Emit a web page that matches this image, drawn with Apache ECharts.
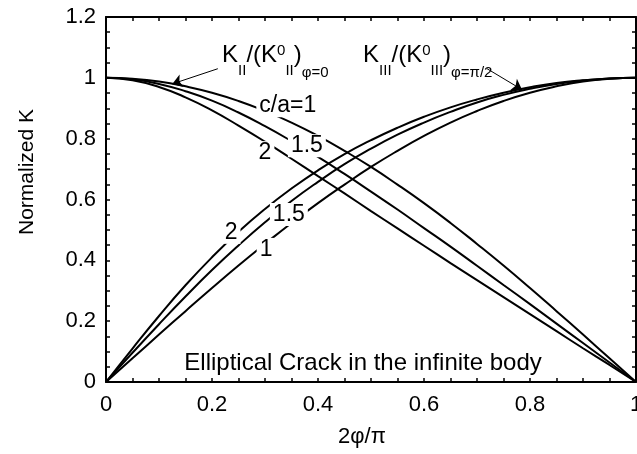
<!DOCTYPE html>
<html>
<head>
<meta charset="utf-8">
<script src="https://cdn.jsdelivr.net/npm/echarts@6/dist/echarts.min.js"></script>
<style>
  html, body { margin: 0; padding: 0; background: #fff; }
  #chart { width: 637px; height: 454px; }
</style>
</head>
<body>
<div id="chart"></div>
<script>
// Normalized angle along the crack front, 2φ/π
const phiRatio = [0, 0.05, 0.1, 0.15, 0.2, 0.25, 0.3, 0.35, 0.4, 0.45, 0.5,
                  0.55, 0.6, 0.65, 0.7, 0.75, 0.8, 0.85, 0.9, 0.95, 1];

// Mode II, K_II / (K0_II) at φ = 0
const kII_ca1  = [1, 0.997, 0.988, 0.972, 0.951, 0.924, 0.891, 0.853, 0.809, 0.760, 0.707,
                  0.649, 0.588, 0.523, 0.454, 0.383, 0.309, 0.233, 0.156, 0.078, 0];
const kII_ca15 = [1, 0.995, 0.980, 0.956, 0.925, 0.886, 0.841, 0.792, 0.740, 0.684, 0.626,
                  0.567, 0.506, 0.445, 0.382, 0.319, 0.256, 0.192, 0.128, 0.064, 0];
const kII_ca2  = [1, 0.992, 0.970, 0.936, 0.893, 0.843, 0.790, 0.734, 0.677, 0.620, 0.562,
                  0.505, 0.448, 0.391, 0.335, 0.279, 0.223, 0.167, 0.111, 0.056, 0];

// Mode III, K_III / (K0_III) at φ = π/2
const kIII_ca1  = [0, 0.078, 0.156, 0.233, 0.309, 0.383, 0.454, 0.523, 0.588, 0.649, 0.707,
                   0.760, 0.809, 0.853, 0.891, 0.924, 0.951, 0.972, 0.988, 0.997, 1];
const kIII_ca15 = [0, 0.096, 0.190, 0.281, 0.368, 0.449, 0.525, 0.595, 0.658, 0.716, 0.767,
                   0.813, 0.853, 0.888, 0.919, 0.944, 0.964, 0.980, 0.991, 0.998, 1];
const kIII_ca2  = [0, 0.110, 0.217, 0.318, 0.410, 0.494, 0.569, 0.636, 0.696, 0.749, 0.795,
                   0.836, 0.872, 0.903, 0.929, 0.951, 0.969, 0.983, 0.992, 0.998, 1];

const xTicks = { min: 0, max: 1, step: 0.2 };
const yTicks = { min: 0, max: 1.2, step: 0.2 };

// Annotations (data coordinates)
const curveLabels = [
  { text: 'c/a=1', at: [0.343, 0.908] },
  { text: '1.5',   at: [0.379, 0.777] },
  { text: '2',     at: [0.300, 0.754] },
  { text: '2',     at: [0.236, 0.492] },
  { text: '1.5',   at: [0.345, 0.551] },
  { text: '1',     at: [0.302, 0.436] }
];
const arrows = [
  { from: [0.211, 1.030], to: [0.125, 0.980] },
  { from: [0.719, 1.030], to: [0.785, 0.961] }
];
const noteText = 'Elliptical Crack in the infinite body';
const noteAt = [0.485, 0.062];

const FONT = "'Liberation Sans', Arial, Helvetica, sans-serif";

const pairs = arr => phiRatio.map((x, i) => [x, arr[i]]);

const curve = (name, arr) => ({
  name, type: 'line', data: pairs(arr), smooth: true, showSymbol: false,
  silent: true, animation: false, z: 2,
  lineStyle: { color: '#000', width: 2 }
});

const tickStyle = { color: '#000', width: 1.5 };
const axisBase = (extra) => Object.assign({
  type: 'value',
  axisLine: { show: true, onZero: false, lineStyle: { color: '#000', width: 2 } },
  axisTick: { show: true, inside: true, length: 4, lineStyle: tickStyle },
  minorTick: { show: true, splitNumber: 4, length: 4, lineStyle: tickStyle },
  splitLine: { show: false },
  minorSplitLine: { show: false }
}, extra);

const chart = echarts.init(document.getElementById('chart'), null, { renderer: 'canvas' });

chart.setOption({
  animation: false,
  backgroundColor: '#fff',
  grid: { left: 106, right: 1, top: 17, bottom: 72, containLabel: false, outerBoundsMode: 'none' },
  xAxis: [
    axisBase({ position: 'bottom', min: xTicks.min, max: xTicks.max, interval: xTicks.step,
      axisLabel: { color: '#000', fontSize: 22, fontFamily: FONT, margin: 12 } }),
    axisBase({ position: 'top', min: xTicks.min, max: xTicks.max, interval: xTicks.step,
      axisLabel: { show: false } })
  ],
  yAxis: [
    axisBase({ position: 'left', min: yTicks.min, max: yTicks.max, interval: yTicks.step,
      axisLabel: { color: '#000', fontSize: 22, fontFamily: FONT, margin: 10 } }),
    axisBase({ position: 'right', min: yTicks.min, max: yTicks.max, interval: yTicks.step,
      axisLabel: { show: false } })
  ],
  series: [
    curve('KII c/a=1', kII_ca1),
    curve('KII c/a=1.5', kII_ca15),
    curve('KII c/a=2', kII_ca2),
    curve('KIII c/a=1', kIII_ca1),
    curve('KIII c/a=1.5', kIII_ca15),
    curve('KIII c/a=2', kIII_ca2),
    {
      name: 'notes', type: 'line', data: [], silent: true, animation: false, z: 5,
      markPoint: {
        symbol: 'rect', symbolSize: 0, animation: false, silent: true,
        label: {
          show: true, position: 'inside', formatter: p => p.name,
          color: '#000', fontSize: 23, fontFamily: FONT,
          backgroundColor: '#fff', padding: [0, 3]
        },
        data: curveLabels.map(l => ({ name: l.text, coord: l.at }))
          .concat([{ name: noteText, coord: noteAt,
                     label: { backgroundColor: 'transparent', fontSize: 24 } }])
      },
      markLine: {
        silent: true, animation: false,
        symbol: ['none', 'arrow'], symbolSize: 10,
        label: { show: false },
        lineStyle: { color: '#000', width: 1, type: 'solid' },
        emphasis: { disabled: true },
        data: arrows.map(a => [{ coord: a.from }, { coord: a.to }])
      }
    }
  ]
});

// Stress-intensity labels with sub/superscripts, laid out piece by piece
const measureCtx = document.createElement('canvas').getContext('2d');
function textWidth(str, size) {
  measureCtx.font = size + 'px ' + FONT;
  return measureCtx.measureText(str).width;
}
function formulaLabel(anchor, pieces) {
  const p0 = chart.convertToPixel({ gridIndex: 0 }, anchor);
  let x = p0[0];
  const out = [];
  pieces.forEach(pc => {
    out.push({
      type: 'text', x: x, y: p0[1] + pc.dy, z: 100, silent: true,
      style: { text: pc.t, fontSize: pc.s, fontFamily: FONT, fill: '#000',
               align: 'left', verticalAlign: 'middle' }
    });
    x += textWidth(pc.t, pc.s);
  });
  return out;
}
const BIG = 24, SMALL = 15;
const kIIPieces = [
  { t: 'K', s: BIG, dy: 0 }, { t: 'II', s: SMALL, dy: 16 },
  { t: '/(K', s: BIG, dy: 0 }, { t: '0', s: SMALL, dy: -4 },
  { t: 'II', s: SMALL, dy: 16 }, { t: ')', s: BIG, dy: 0 },
  { t: 'φ=0', s: SMALL, dy: 18 }
];
const kIIIPieces = [
  { t: 'K', s: BIG, dy: 0 }, { t: 'III', s: SMALL, dy: 16 },
  { t: '/(K', s: BIG, dy: 0 }, { t: '0', s: SMALL, dy: -4 },
  { t: 'III', s: SMALL, dy: 16 }, { t: ')', s: BIG, dy: 0 },
  { t: 'φ=π/2', s: SMALL, dy: 18 }
];

chart.setOption({
  graphic: [].concat(
    formulaLabel([0.219, 1.075], kIIPieces),
    formulaLabel([0.485, 1.075], kIIIPieces),
    [
      { type: 'text', x: 27, y: 172, rotation: Math.PI / 2, z: 100, silent: true,
        style: { text: 'Normalized K', fontSize: 21, fontFamily: FONT, fill: '#000',
                 align: 'center', verticalAlign: 'middle' } },
      { type: 'text', x: 362, y: 437, z: 100, silent: true,
        style: { text: '2φ/π', fontSize: 22, fontFamily: FONT, fill: '#000',
                 align: 'center', verticalAlign: 'middle' } }
    ]
  )
});
</script>
</body>
</html>
